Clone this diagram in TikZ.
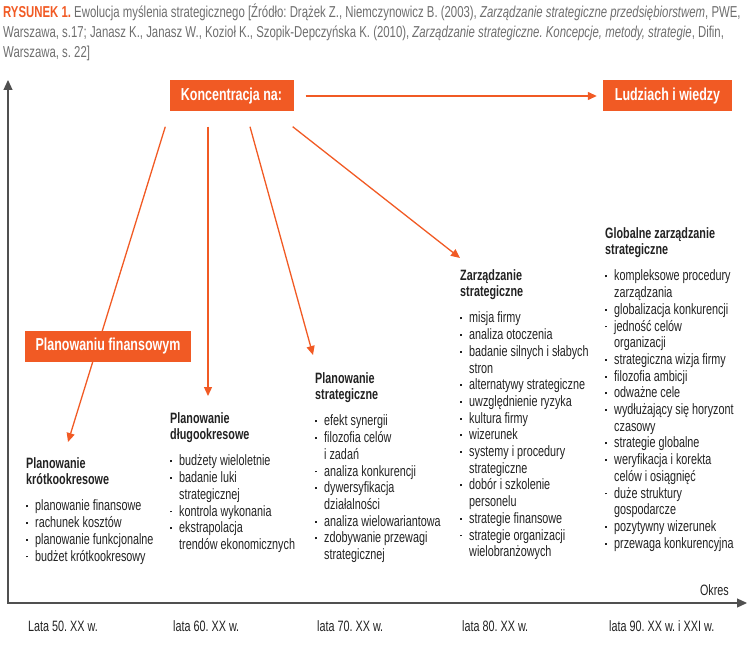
\documentclass[tikz,border=0pt]{standalone}
\usepackage{fontspec}
\setmainfont[FakeStretch=0.72]{Liberation Sans}
\usepackage{xcolor}
\usetikzlibrary{arrows.meta}
\usetikzlibrary{positioning, calc, math}
\definecolor{myorange}{RGB}{241,90,36}
\definecolor{mygray}{RGB}{110,110,110}
\definecolor{mytext}{RGB}{34,34,34}
\definecolor{myaxis}{RGB}{80,80,80}
\frenchspacing

\newcommand{\bul}{\makebox[9pt][l]{\rule[3.6pt]{1.9pt}{1.9pt}}}
\newcommand{\cont}{\hspace*{9pt}}

\tikzset{
  orangebox/.style={fill=myorange, text=white, inner sep=0pt, minimum height=31pt,
    font=\bfseries\fontsize{17.3}{20}\selectfont},
  column/.style={anchor=north west, align=left, inner sep=0pt, text=mytext,
    font=\fontsize{15}{16.7}\selectfont},
  era/.style={anchor=base west, inner sep=0pt, text=mytext,
    font=\fontsize{15}{18}\selectfont},
  ray/.style={myorange, line width=1.3pt, -{Triangle[length=9pt, width=8pt]}}
}

\begin{document}
\begin{tikzpicture}[x=1pt, y=-1pt]
\tikzmath{
\dy=15;
\gap=9.5;
}
\useasboundingbox (0,0) rectangle (755,663);

%caption
\node[anchor=north west, align=left, inner sep=0pt, text=mygray,
  font=\fontsize{15.8}{20}\selectfont] (caption) at (3,4)
  {{\color{myorange}\bfseries RYSUNEK 1.} Ewolucja myślenia strategicznego [Źródło: Drążek Z., Niemczynowicz B. (2003), \textit{Zarządzanie strategiczne przedsiębiorstwem}, PWE,\\
   Warszawa, s.17; Janasz K., Janasz W., Kozioł K., Szopik-Depczyńska K. (2010), \textit{Zarządzanie strategiczne. Koncepcje, metody, strategie}, Difin,\\
   Warszawa, s. 22]};

%axis
\coordinate (ytop) at (8,80);
\coordinate (orig) at (8,603);
\coordinate (xend) at (747,603);
\draw[myaxis, line width=1.2pt, {Triangle[length=10pt, width=9pt]}-{Triangle[length=10pt, width=9pt]}]
  (ytop) -- (orig) -- (xend);
\node[anchor=base east, inner sep=0pt, text=mytext, font=\fontsize{15}{18}\selectfont]
  (okres) at (729,595) {Okres};

\node[era] (e50) at (28,631) {Lata 50. XX w.};
\node[era] (e60) at (173,631) {lata 60. XX w.};
\node[era] (e70) at (317,631) {lata 70. XX w.};
\node[era] (e80) at (462,631) {lata 80. XX w.};
\node[era] (e90) at (609,631) {lata 90. XX w. i XXI w.};

%top boxes
\node[orangebox, minimum width=124pt] (konc) at (231.5,96) {Koncentracja na:};
\node[orangebox, minimum width=129pt] (ludz) at (667.5,96) {Ludziach i wiedzy};
\draw[ray] ($(konc.east)+(12,0)$) -- ($(ludz.west)+(-6,0)$);

%columns
\node[column] (col1) at (26,457) {\textbf{Planowanie}\\
  \textbf{krótkookresowe}\\[\gap pt]
  \bul planowanie finansowe\\
  \bul rachunek kosztów\\
  \bul planowanie funkcjonalne\\
  \bul budżet krótkookresowy};

\node[column] (col2) at (170,412) {\textbf{Planowanie}\\
  \textbf{długookresowe}\\[\gap pt]
  \bul budżety wieloletnie\\
  \bul badanie luki\\
  \cont strategicznej\\
  \bul kontrola wykonania\\
  \bul ekstrapolacja\\
  \cont trendów ekonomicznych};

\node[column] (col3) at (315,372) {\textbf{Planowanie}\\
  \textbf{strategiczne}\\[\gap pt]
  \bul efekt synergii\\
  \bul filozofia celów\\
  \cont i zadań\\
  \bul analiza konkurencji\\
  \bul dywersyfikacja\\
  \cont działalności\\
  \bul analiza wielowariantowa\\
  \bul zdobywanie przewagi\\
  \cont strategicznej};

\node[column] (col4) at (460,269) {\textbf{Zarządzanie}\\
  \textbf{strategiczne}\\[\gap pt]
  \bul misja firmy\\
  \bul analiza otoczenia\\
  \bul badanie silnych i słabych\\
  \cont stron\\
  \bul alternatywy strategiczne\\
  \bul uwzględnienie ryzyka\\
  \bul kultura firmy\\
  \bul wizerunek\\
  \bul systemy i procedury\\
  \cont strategiczne\\
  \bul dobór i szkolenie\\
  \cont personelu\\
  \bul strategie finansowe\\
  \bul strategie organizacji\\
  \cont wielobranżowych};

\node[column] (col5) at (605,227) {\textbf{Globalne zarządzanie}\\
  \textbf{strategiczne}\\[\gap pt]
  \bul kompleksowe procedury\\
  \cont zarządzania\\
  \bul globalizacja konkurencji\\
  \bul jedność celów\\
  \cont organizacji\\
  \bul strategiczna wizja firmy\\
  \bul filozofia ambicji\\
  \bul odważne cele\\
  \bul wydłużający się horyzont\\
  \cont czasowy\\
  \bul strategie globalne\\
  \bul weryfikacja i korekta\\
  \cont celów i osiągnięć\\
  \bul duże struktury\\
  \cont gospodarcze\\
  \bul pozytywny wizerunek\\
  \bul przewaga konkurencyjna};

%rays from the top box
\draw[ray] ($(konc.south west)+(-4,\dy)$) -- ($(col1.north west)+(42,-15)$);
\draw[ray] ($(konc.south)+(-23.5,\dy)$) -- ($(col2.north west)+(38,-16)$);
\draw[ray] ($(konc.south)+(18.5,\dy)$) -- ($(col3.north west)+(-2,-17)$);
\draw[ray] ($(konc.south east)+(-1,\dy)$) -- ($(col4.north west)+(0,-11)$);

\node[orangebox, minimum width=166pt] (fin) at (108,346.5) {Planowaniu finansowym};
\end{tikzpicture}
\end{document}
